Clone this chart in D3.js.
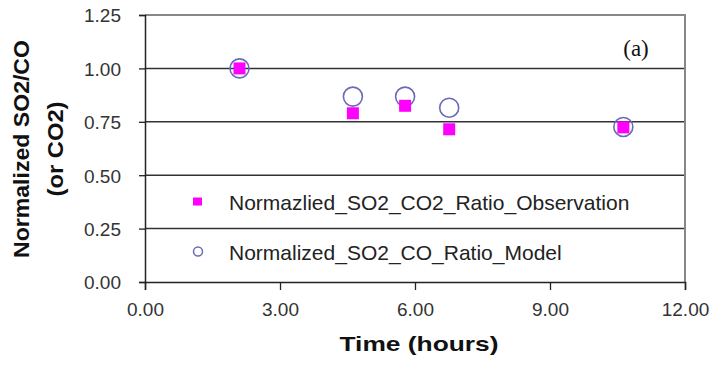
<!DOCTYPE html>
<html>
<head>
<meta charset="utf-8">
<script src="https://cdn.jsdelivr.net/npm/d3@7"></script>
<style>
  body { margin: 0; background: #fff; }
  svg { font-family: Arial, "Liberation Sans", sans-serif; }
</style>
</head>
<body>
<div id="chart"></div>
<script>
const timeHours = [2.1, 4.62, 5.78, 6.76, 10.63];
const observation = [1.00, 0.79, 0.825, 0.715, 0.724];
const model = [1.00, 0.868, 0.868, 0.816, 0.726];
const xTicks = [0, 3, 6, 9, 12];
const yTicks = [0, 0.25, 0.5, 0.75, 1.0, 1.25];
const seriesNames = ["Normazlied_SO2_CO2_Ratio_Observation", "Normalized_SO2_CO_Ratio_Model"];

const W = 715, H = 366;
const margin = { top: 15, right: 30, bottom: 84, left: 145 };
const width = W - margin.left - margin.right;
const height = H - margin.top - margin.bottom;

const svg = d3.select("#chart").append("svg")
    .attr("width", W)
    .attr("height", H);

const g = svg.append("g")
    .attr("transform", `translate(${margin.left},${margin.top})`);

const x = d3.scaleLinear().domain([0, 12]).range([0, width]);
const y = d3.scaleLinear().domain([0, 1.25]).range([height, 0]);

// gridlines
g.selectAll(".grid")
    .data(yTicks.filter(d => d > 0 && d < 1.25))
    .enter().append("line")
    .attr("x1", 0).attr("x2", width)
    .attr("y1", d => y(d)).attr("y2", d => y(d))
    .attr("stroke", "#333")
    .attr("stroke-width", 1.5);

// top and right frame
g.append("path")
    .attr("d", `M0,${y(1.25)}H${width}V${height}`)
    .attr("fill", "none")
    .attr("stroke", "#888")
    .attr("stroke-width", 2);

const yAxis = g.append("g")
    .call(d3.axisLeft(y).tickValues(yTicks).tickFormat(d3.format(".2f")).tickSize(6).tickPadding(18));
const xAxis = g.append("g")
    .attr("transform", `translate(0,${height})`)
    .call(d3.axisBottom(x).tickValues(xTicks).tickFormat(d3.format(".2f")).tickSize(8).tickPadding(13));

[yAxis, xAxis].forEach(a => {
    a.select(".domain").attr("stroke", "#222").attr("stroke-width", 1.5);
    a.selectAll(".tick line").attr("stroke", "#222").attr("stroke-width", 1.3);
    a.selectAll("text").attr("font-size", 19).attr("fill", "#333").attr("font-family", "Arial, 'Liberation Sans', sans-serif");
});
yAxis.selectAll("text").attr("dy", "0.36em");

// model circles
g.selectAll(".model")
    .data(timeHours.map((t, i) => ({ t, v: model[i] })))
    .enter().append("circle")
    .attr("cx", d => x(d.t))
    .attr("cy", d => y(d.v))
    .attr("r", 9.5)
    .attr("fill", "none")
    .attr("stroke", "#6a6ab8")
    .attr("stroke-width", 1.6);

// observation squares
const sq = 12;
g.selectAll(".obs")
    .data(timeHours.map((t, i) => ({ t, v: observation[i] })))
    .enter().append("rect")
    .attr("x", d => x(d.t) - sq / 2)
    .attr("y", d => y(d.v) - sq / 2)
    .attr("width", sq)
    .attr("height", sq)
    .attr("fill", "#ff00ff");

// legend
const legend = svg.append("g");
legend.append("rect")
    .attr("x", 193).attr("y", 197.5)
    .attr("width", 9).attr("height", 8)
    .attr("fill", "#ff00ff");
legend.append("circle")
    .attr("cx", 198).attr("cy", 251.5)
    .attr("r", 4.5)
    .attr("fill", "none")
    .attr("stroke", "#6a6ab8")
    .attr("stroke-width", 1.5);
legend.selectAll("text")
    .data(seriesNames)
    .enter().append("text")
    .attr("x", 229)
    .attr("y", (d, i) => 210 + i * 50)
    .attr("font-size", 21)
    .attr("fill", "#222")
    .text(d => d);

// panel label
svg.append("text")
    .attr("x", 636).attr("y", 56)
    .attr("text-anchor", "middle")
    .attr("font-family", "'Liberation Serif', 'DejaVu Serif', serif")
    .attr("font-size", 23)
    .attr("fill", "#111")
    .text("(a)");

// axis titles
svg.append("text")
    .attr("x", 419)
    .attr("y", 351)
    .attr("text-anchor", "middle")
    .attr("font-size", 21)
    .attr("font-weight", "bold")
    .attr("fill", "#111")
    .attr("textLength", 159)
    .attr("lengthAdjust", "spacingAndGlyphs")
    .text("Time (hours)");

const yt = svg.append("g")
    .attr("transform", `translate(0,149) rotate(-90)`)
    .attr("font-size", 22)
    .attr("font-weight", "bold")
    .attr("fill", "#111")
    .attr("text-anchor", "middle");
yt.append("text").attr("x", 0).attr("y", 29)
    .attr("textLength", 218).attr("lengthAdjust", "spacingAndGlyphs")
    .text("Normalized SO2/CO");
yt.append("text").attr("x", 0).attr("y", 63)
    .attr("textLength", 95).attr("lengthAdjust", "spacingAndGlyphs")
    .text("(or CO2)");
</script>
</body>
</html>
